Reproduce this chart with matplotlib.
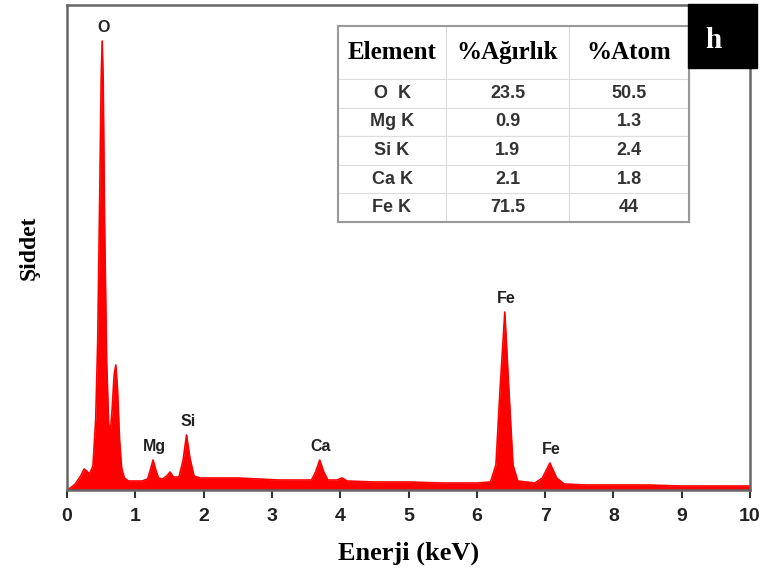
import matplotlib.pyplot as plt
from matplotlib.patches import Rectangle
import numpy as np

# EDS spectrum, traced (energy in keV, intensity in arbitrary counts)
energy = [0.00, 0.05, 0.12, 0.20, 0.25, 0.29, 0.33, 0.38, 0.42, 0.45, 0.48, 0.50,
          0.515, 0.53, 0.55, 0.58, 0.61, 0.635, 0.66, 0.69, 0.715, 0.74, 0.77, 0.80,
          0.84, 0.90, 1.00, 1.10, 1.18, 1.22, 1.26, 1.30, 1.34, 1.40, 1.46, 1.51,
          1.56, 1.64, 1.70, 1.75, 1.80, 1.86, 1.95, 2.20, 2.50, 2.80, 3.10, 3.40,
          3.58, 3.64, 3.70, 3.76, 3.82, 3.95, 4.03, 4.10, 4.50, 5.00, 5.50, 6.00,
          6.20, 6.28, 6.34, 6.41, 6.47, 6.53, 6.60, 6.85, 6.96, 7.07, 7.17, 7.28,
          7.60, 8.00, 8.50, 9.00, 9.50, 10.00]
counts = [0, 2, 6, 14, 21, 19, 16, 24, 70, 150, 300, 410,
          449, 410, 270, 130, 66, 58, 80, 115, 125, 100, 50, 22,
          12, 9, 9, 9, 11, 20, 30, 20, 12, 11, 14, 18,
          13, 13, 30, 55, 32, 14, 12, 12, 12, 11, 10, 10,
          10, 18, 30, 18, 10, 10, 12, 9, 8, 8, 7, 7,
          8, 25, 100, 178, 100, 25, 9, 7, 12, 27, 12, 6,
          5, 5, 5, 4, 4, 4]

# peak labels
peak_names = ['O', 'Mg', 'Si', 'Ca', 'Fe', 'Fe']
peak_energy = [0.515, 1.26, 1.75, 3.70, 6.41, 7.07]
peak_counts = [449, 30, 55, 30, 178, 27]

# composition table
col_labels = ['Element', '%Ağırlık', '%Atom']
elements = ['O  K', 'Mg K', 'Si K', 'Ca K', 'Fe K']
weight_pct = ['23.5', '0.9', '1.9', '2.1', '71.5']
atom_pct = ['50.5', '1.3', '2.4', '1.8', '44']

W, H = 766, 578
fig = plt.figure(figsize=(W / 100, H / 100), dpi=100)
ax = fig.add_axes([67 / W, 1 - 490 / H, 683 / W, 485 / H])

ax.fill_between(energy, counts, 0, color='#ff0000', lw=0)
ax.plot(energy, counts, color='#ff0000', lw=1.2)

for name, e, c in zip(peak_names, peak_energy, peak_counts):
    ax.annotate(name, xy=(e, c), xytext=(1, 4), textcoords='offset points',
                ha='center', va='bottom', fontsize=11.5, fontweight='bold',
                color='#222222', family='Liberation Sans')

ax.set_xlim(0, 10)
ax.set_ylim(0, 485)
ax.set_xticks(range(0, 11))
ax.set_yticks([])
for s in ax.spines.values():
    s.set_color('#666666')
    s.set_linewidth(1.8)
ax.tick_params(axis='x', direction='out', length=6, width=1.5, color='#333333',
               pad=7, labelsize=14)
for lbl in ax.get_xticklabels():
    lbl.set_fontweight('bold')
    lbl.set_family('Liberation Sans')
    lbl.set_color('#222222')

ax.set_xlabel('Enerji (keV)', fontsize=19, fontweight='bold',
              family='Liberation Serif', labelpad=12)
ax.set_ylabel('Şiddet', fontsize=17, fontweight='bold',
              family='Liberation Serif', labelpad=20)

# table in the upper right
cells = [[el, w, a] for el, w, a in zip(elements, weight_pct, atom_pct)]
tb = ax.table(cellText=cells, colLabels=col_labels, cellLoc='center',
              bbox=[(338 - 67) / 683, (490 - 222) / 485, 351 / 683, 196 / 485])
tb.auto_set_font_size(False)
col_w = [108, 123, 120]
for (r, c), cell in tb.get_celld().items():
    cell.set_width(col_w[c])
    cell.set_edgecolor('#dddddd')
    cell.set_linewidth(0.8)
    cell.set_facecolor('white')
    if r == 0:
        cell.set_height(53)
        cell.get_text().set_fontsize(18)
        cell.get_text().set_fontweight('bold')
        cell.get_text().set_family('Liberation Serif')
        cell.get_text().set_color('#000000')
    else:
        cell.set_height(28.6)
        cell.get_text().set_fontsize(13)
        cell.get_text().set_fontweight('bold')
        cell.get_text().set_family('Liberation Sans')
        cell.get_text().set_color('#333333')
ax.add_patch(Rectangle(((338 - 67) / 683, (490 - 222) / 485), 351 / 683, 196 / 485,
                       transform=ax.transAxes, fill=False, ec='#999999', lw=1.5,
                       zorder=10))

# panel letter
fig.patches.append(Rectangle((688 / W, 1 - 68 / H), 69 / W, 64 / H,
                             transform=fig.transFigure, color='black', zorder=20))
fig.text(713 / W, 1 - 40 / H, 'h', color='white', fontsize=21, fontweight='bold',
         family='Liberation Serif', ha='center', va='center', zorder=21)

fig.savefig('out.png', dpi=100)
